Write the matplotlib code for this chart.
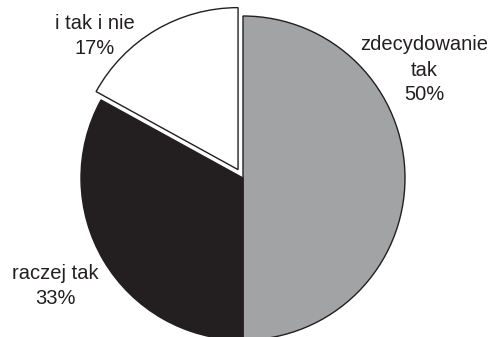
import matplotlib.pyplot as plt

plt.rcParams['font.family'] = ['Liberation Sans', 'DejaVu Sans']

labels = ["zdecydowanie\ntak", "raczej tak", "i tak i nie"]
values = [50, 33, 17]
colors = ["#a2a3a5", "#231f20", "#ffffff"]
explode = [0, 0, 0.06]

W, H = 492, 337
fig = plt.figure(figsize=(W / 100, H / 100), dpi=100)

# pie center ~ (243, 178) px, radius ~162 px; axes spans +-1.2
cx, cy, r = 243, 178, 162
half = 1.2 * r
ax = fig.add_axes([(cx - half) / W, (H - cy - half) / H, 2 * half / W, 2 * half / H])

wedges, _ = ax.pie(values, colors=colors, explode=explode, startangle=90,
                   counterclock=False,
                   wedgeprops=dict(edgecolor="#231f20", linewidth=1.0))
ax.set_xlim(-1.2, 1.2)
ax.set_ylim(-1.2, 1.2)
ax.set_aspect("equal")
ax.axis("off")

# label positions in pixels (x, y of text center)
label_pos = [(424, 70), (55, 286), (95, 36)]
for lab, v, (x, y) in zip(labels, values, label_pos):
    fig.text(x / W, 1 - y / H, f"{lab}\n{v}%", ha="center", va="center",
             fontsize=14.5, color="#231f20", linespacing=1.4)

fig.savefig("out.png", dpi=100)
